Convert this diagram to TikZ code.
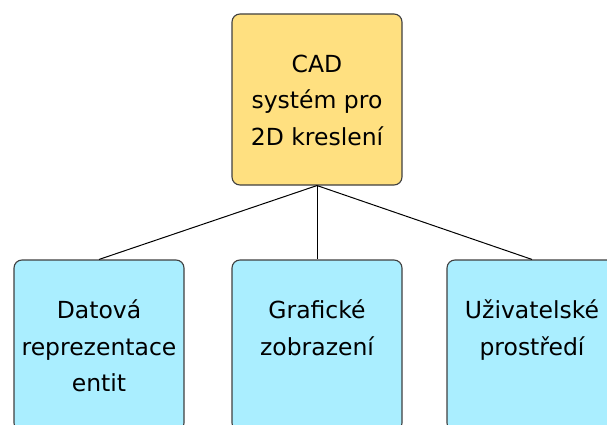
\documentclass[tikz,border=0pt]{standalone}
\usepackage{fontspec}
\setmainfont{DejaVu Sans}
\usetikzlibrary{calc}
\definecolor{boxyellow}{HTML}{FFE080}
\definecolor{boxcyan}{HTML}{AAEEFF}
\definecolor{boxline}{HTML}{404040}
\begin{document}
\begin{tikzpicture}[x=1pt,y=-1pt,
  box/.style={draw=boxline, line width=1.1pt, rounded corners=8pt, minimum width=170pt, minimum height=171pt, inner sep=0pt},
  topbox/.style={box, fill=boxyellow},
  subbox/.style={box, fill=boxcyan},
  lbl/.style={anchor=north, align=center, inner sep=0pt, font=\fontsize{23.5}{36.5}\selectfont},
  link/.style={draw=black, line width=1pt}]
\useasboundingbox (0,0) rectangle (607,425);
\clip (0,0) rectangle (607,425);
\node[topbox] (cad) at (317,99.5) {};
\node[subbox] (data) at (99,345.5) {};
\node[subbox] (graf) at (317,345.5) {};
\node[subbox] (uziv) at (532,345.5) {};
\draw[link] (cad.south) -- (data.north);
\draw[link] (cad.south) -- (graf.north);
\draw[link] (cad.south) -- (uziv.north);
\node[lbl] (cadt) at ($(cad.north)+(0,33)$) {\strut CAD\\\strut systém pro\\\strut 2D kreslení};
\node[lbl] (datat) at ($(data.north)+(0,33.5)$) {\strut Datová\\\strut reprezentace\\\strut entit};
\node[lbl] (graft) at ($(graf.north)+(0,33.5)$) {\strut Grafické\\\strut zobrazení};
\node[lbl] (uzivt) at ($(uziv.north)+(0,33.5)$) {\strut Uživatelské\\\strut prostředí};
\end{tikzpicture}
\end{document}
